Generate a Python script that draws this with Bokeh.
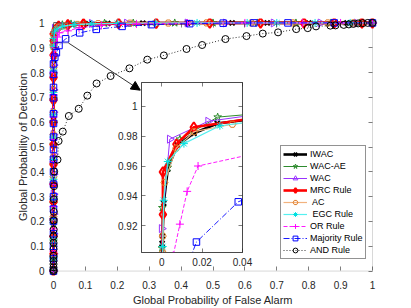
import numpy as np
from bokeh.plotting import figure
from bokeh.models import (Range1d, LinearAxis, FixedTicker, NumeralTickFormatter,
                          Legend, LegendItem, Arrow, NormalHead, BoxAnnotation)
from bokeh.embed import file_html
from bokeh.resources import INLINE

FONT = "Liberation Sans"
AXIS_COLOR = "#262626"

# ---------------- data ----------------
x_ticks = [0, 0.1, 0.2, 0.3, 0.4, 0.5, 0.6, 0.7, 0.8, 0.9, 1]
x_tick_labels = ["0", "0.1", "0.2", "0.3", "0.4", "0.5", "0.6", "0.7", "0.8", "0.9", "1"]
y_ticks = [0, 0.1, 0.2, 0.3, 0.4, 0.5, 0.6, 0.7, 0.8, 0.9, 1]
y_tick_labels = ["0", "0.1", "0.2", "0.3", "0.4", "0.5", "0.6", "0.7", "0.8", "0.9", "1"]
inset_x_ticks = [0, 0.02, 0.04]
inset_x_tick_labels = ["0", "0.02", "0.04"]
inset_y_ticks = [0.92, 0.94, 0.96, 0.98, 1]
inset_y_tick_labels = ["0.92", "0.94", "0.96", "0.98", "1"]

x_label = "Global Probability of False Alarm"
y_label = "Global Probability of Detection"

names = ["IWAC", "WAC-AE", "WAC", "MRC Rule", " AC", " EGC Rule", "OR Rule", "Majority Rule", "AND Rule"]

iwac_pfa = [0, 0, 0, 0, 0, 0, 0, 0, 0, 0, 0, 0, 0.0002, 0.0004, 0.0010, 0.0030, 0.0077, 0.0160, 0.0275,
            0.060, 0.110, 0.170, 0.280, 0.420, 0.560, 0.670, 0.800, 0.920, 1.000]
iwac_pd = [0, 0.06, 0.13, 0.20, 0.28, 0.36, 0.44, 0.52, 0.61, 0.70, 0.78, 0.85, 0.908, 0.913, 0.935, 0.958,
           0.974, 0.982, 0.9885, 0.994, 0.997, 0.998, 0.999, 0.9995, 1, 1, 1, 1, 1]

wacae_pfa = [0, 0, 0, 0, 0, 0, 0, 0, 0, 0, 0, 0.0001, 0.0003, 0.0030, 0.0090, 0.0277, 0.055, 0.095, 0.160,
             0.250, 0.380, 0.500, 0.640, 0.760, 0.870, 0.960, 1.000]
wacae_pd = [0, 0.05, 0.12, 0.19, 0.27, 0.35, 0.43, 0.51, 0.60, 0.69, 0.79, 0.905, 0.932, 0.959, 0.978, 0.9928,
            0.996, 0.998, 0.999, 0.9995, 1, 1, 1, 1, 1, 1, 1]

wac_pfa = [0, 0, 0, 0, 0, 0, 0, 0, 0, 0, 0, 0, 0.0040, 0.0230, 0.050, 0.120, 0.230, 0.420, 0.540, 0.690,
           0.837, 0.950, 1.000]
wac_pd = [0, 0.07, 0.15, 0.23, 0.31, 0.39, 0.47, 0.55, 0.64, 0.73, 0.83, 0.918, 0.978, 0.990, 0.995, 0.998,
          0.999, 1, 1, 1, 1, 1, 1]

mrc_pfa = [0, 0, 0, 0, 0, 0, 0, 0, 0, 0, 0, 0.0003, 0.0006, 0.0006, 0.0073, 0.0159, 0.045, 0.094, 0.204,
           0.322, 0.490, 0.649, 0.785, 0.880, 0.967, 1.000]
mrc_pd = [0, 0.07, 0.14, 0.21, 0.28, 0.35, 0.43, 0.51, 0.60, 0.69, 0.78, 0.87, 0.9275, 0.956, 0.9746, 0.986,
          0.992, 0.996, 0.998, 0.999, 0.9995, 1, 1, 1, 1, 1]

ac_pfa = [0, 0, 0, 0, 0, 0, 0, 0, 0, 0, 0, 0.0005, 0.0005, 0.0014, 0.0072, 0.0160, 0.0350, 0.075, 0.140,
          0.240, 0.360, 0.480, 0.620, 0.750, 0.860, 0.940, 1.000]
ac_pd = [0, 0.06, 0.14, 0.22, 0.30, 0.38, 0.46, 0.55, 0.64, 0.73, 0.82, 0.902, 0.913, 0.949, 0.972, 0.983,
         0.988, 0.994, 0.997, 0.999, 0.9995, 1, 1, 1, 1, 1, 1]

egc_pfa = [0, 0, 0, 0, 0, 0, 0, 0, 0, 0, 0, 0.0005, 0.0010, 0.0030, 0.0110, 0.0288, 0.065, 0.120, 0.200,
           0.320, 0.450, 0.607, 0.700, 0.820, 0.930, 1.000]
egc_pd = [0, 0.05, 0.13, 0.21, 0.29, 0.37, 0.45, 0.54, 0.63, 0.72, 0.81, 0.906, 0.937, 0.963, 0.975, 0.987,
          0.993, 0.996, 0.998, 0.999, 1, 1, 1, 1, 1, 1]

or_pfa = [0, 0, 0, 0, 0, 0, 0, 0, 0, 0, 0.0010, 0.0057, 0.0090, 0.0126, 0.0180, 0.045, 0.080, 0.150, 0.260,
          0.420, 0.600, 0.780, 0.900, 1.000]
or_pd = [0, 0.08, 0.17, 0.26, 0.35, 0.44, 0.53, 0.62, 0.71, 0.80, 0.87, 0.900, 0.921, 0.943, 0.960, 0.968,
         0.980, 0.990, 0.996, 0.999, 1, 1, 1, 1]

maj_pfa = [0, 0, 0, 0, 0, 0, 0, 0, 0, 0, 0, 0, 0, 0, 0, 0, 0, 0, 0.0040, 0.0090, 0.0172, 0.0379, 0.082,
           0.134, 0.215, 0.307, 0.427, 0.532, 0.628, 0.735, 0.880, 1.000]
maj_pd = [0, 0.05, 0.10, 0.15, 0.20, 0.25, 0.30, 0.35, 0.40, 0.45, 0.49, 0.54, 0.595, 0.634, 0.698, 0.74,
          0.793, 0.835, 0.862, 0.880, 0.909, 0.936, 0.960, 0.974, 0.986, 0.993, 0.997, 0.999, 1, 1, 1, 1]

and_pfa = [0, 0, 0, 0, 0, 0, 0, 0, 0, 0.0005, 0.0005, 0.0010, 0.0010, 0.0015, 0.0020, 0.0125, 0.016, 0.029,
           0.048, 0.079, 0.106, 0.135, 0.179, 0.238, 0.294, 0.346, 0.417, 0.466, 0.539, 0.605, 0.656, 0.704,
           0.761, 0.797, 0.823, 0.868, 0.884, 0.910, 0.926, 0.940, 0.955, 0.970, 0.985, 1.000]
and_pd = [0, 0.005, 0.015, 0.028, 0.041, 0.061, 0.088, 0.114, 0.140, 0.167, 0.204, 0.239, 0.289, 0.342,
          0.401, 0.449, 0.524, 0.562, 0.625, 0.654, 0.707, 0.756, 0.786, 0.817, 0.852, 0.869, 0.895, 0.911,
          0.935, 0.947, 0.957, 0.962, 0.975, 0.979, 0.986, 0.989, 0.990, 0.992, 0.994, 0.996, 0.998, 0.999,
          1.0, 1.0]

series_pfa = [iwac_pfa, wacae_pfa, wac_pfa, mrc_pfa, ac_pfa, egc_pfa, or_pfa, maj_pfa, and_pfa]
series_pd = [iwac_pd, wacae_pd, wac_pd, mrc_pd, ac_pd, egc_pd, or_pd, maj_pd, and_pd]

# axes box, zoom box and arrow annotation (data coords)
axes_box = dict(left=0, right=1, bottom=0, top=1)
zoom_box = dict(left=0, right=0.047, bottom=0.919, top=1.0)
arrow_start = (0.047, 0.919)
arrow_end = (0.272, 0.729)

# ---------------- styles ----------------
styles = [
    dict(color="#000000", lw=2.6, dash="solid", marker="x", size=7, mcolor="#000000", mlw=2.0, angle=0),
    dict(color="#2E8B2E", lw=1.0, dash="solid", marker="star", size=8, mcolor="#2E8B2E", mlw=1.0, angle=0),
    dict(color="#9933FF", lw=1.0, dash="solid", marker="triangle", size=8, mcolor="#9933FF", mlw=1.0,
         angle=-np.pi / 2),
    dict(color="#FF0000", lw=2.6, dash="solid", marker="diamond", size=10, mcolor="#FF0000", mlw=2.0, angle=0),
    dict(color="#F2B27E", lw=1.2, dash="solid", marker="hex", size=7, mcolor="#E07B24", mlw=1.0, angle=0),
    dict(color="#55F0F0", lw=1.2, dash="solid", marker="asterisk", size=8, mcolor="#00E0E0", mlw=1.0, angle=0),
    dict(color="#FF00FF", lw=0.9, dash="4 2", marker="cross", size=8, mcolor="#FF00FF", mlw=1.0, angle=0),
    dict(color="#0000FF", lw=0.9, dash="6 2 1 2", marker="square", size=6.5, mcolor="#0000FF", mlw=1.0, angle=0),
    dict(color="#000000", lw=0.8, dash="1 2", marker="circle", size=7, mcolor="#000000", mlw=1.0, angle=0),
]


def draw_series(fig):
    items = []
    for name, xs, ys, st in zip(names, series_pfa, series_pd, styles):
        r1 = fig.line(xs, ys, line_color=st["color"], line_width=st["lw"], line_dash=st["dash"])
        r2 = fig.scatter(xs, ys, marker=st["marker"], size=st["size"], line_color=st["mcolor"],
                         fill_color=None, line_width=st["mlw"], angle=st["angle"])
        items.append(LegendItem(label=name, renderers=[r1, r2]))
    return items


def style_axis(ax, ticks, labels, show_labels, tick_out, tick_in, standoff, axis_line):
    ax.ticker = FixedTicker(ticks=ticks)
    ax.formatter = NumeralTickFormatter(format="0.[00]")
    if show_labels:
        ax.major_label_overrides = dict(zip(ticks, labels))
    else:
        ax.major_label_overrides = {t: "" for t in ticks}
    ax.major_label_text_font_size = "10px"
    ax.major_tick_in = tick_in
    ax.major_tick_out = tick_out
    ax.minor_tick_in = 0
    ax.minor_tick_out = 0
    ax.axis_line_color = AXIS_COLOR if axis_line else None
    ax.axis_line_width = 0.6
    ax.major_tick_line_color = AXIS_COLOR
    ax.major_tick_line_width = 0.6
    ax.major_label_text_font = FONT
    ax.major_label_text_color = AXIS_COLOR
    ax.major_label_standoff = standoff
    ax.axis_label_text_font = FONT
    ax.axis_label_text_font_size = "11px"
    ax.axis_label_text_font_style = "normal"
    ax.axis_label_text_color = AXIS_COLOR


# ---------------- main figure ----------------
p = figure(width=411, height=308, output_backend="svg", toolbar_location=None,
           x_range=Range1d(-0.0157, 1.0157), y_range=Range1d(-0.0178, 1.0178),
           min_border_left=48, min_border_right=34, min_border_top=18, min_border_bottom=28)
p.grid.visible = False
p.outline_line_color = None
p.background_fill_color = "white"
p.border_fill_color = "white"

style_axis(p.xaxis[0], x_ticks, x_tick_labels, True, -5, 9, 5, False)
style_axis(p.yaxis[0], y_ticks, y_tick_labels, True, -5, 9, 4, False)
p.xaxis[0].axis_label = x_label
p.xaxis[0].axis_label_standoff = 2
p.yaxis[0].axis_label = y_label
p.yaxis[0].axis_label_standoff = -1
ax_r = LinearAxis()
style_axis(ax_r, y_ticks, y_tick_labels, False, -5, 9, 0, False)
p.add_layout(ax_r, "right")
ax_t = LinearAxis()
style_axis(ax_t, x_ticks, x_tick_labels, False, -5, 9, 0, False)
p.add_layout(ax_t, "above")

p.add_layout(BoxAnnotation(fill_alpha=0, line_color=AXIS_COLOR, line_width=0.6, level="underlay", **axes_box))

items = draw_series(p)

p.add_layout(BoxAnnotation(fill_alpha=0, line_color="#404040", line_width=1, **zoom_box))
p.add_layout(Arrow(x_start=arrow_start[0], y_start=arrow_start[1], x_end=arrow_end[0], y_end=arrow_end[1],
                   line_color="#000000", line_width=0.8,
                   end=NormalHead(size=9, fill_color="#000000", line_color="#000000")))

legend = Legend(items=items, location=(232, 16), orientation="vertical")
legend.label_text_font = FONT
legend.label_text_font_size = "9px"
legend.label_text_color = "#000000"
legend.glyph_width = 24
legend.glyph_height = 12
legend.label_height = 12
legend.spacing = 0
legend.padding = 2
legend.margin = 0
legend.label_standoff = 3
legend.border_line_color = AXIS_COLOR
legend.border_line_width = 0.6
legend.background_fill_color = "white"
legend.background_fill_alpha = 1
p.add_layout(legend)

# ---------------- inset figure ----------------
inset = figure(width=175, height=204, output_backend="svg", toolbar_location=None,
               x_range=Range1d(-0.01, 0.04), y_range=Range1d(0.902, 1.016),
               min_border_left=40, min_border_right=34, min_border_top=14, min_border_bottom=20)
inset.grid.visible = False
inset.outline_line_color = AXIS_COLOR
inset.outline_line_width = 0.6
inset.background_fill_color = "white"
inset.border_fill_color = None
style_axis(inset.xaxis[0], inset_x_ticks, inset_x_tick_labels, True, 0, 4, 5, True)
style_axis(inset.yaxis[0], inset_y_ticks, inset_y_tick_labels, True, 0, 4, 4, True)
ia_r = LinearAxis()
style_axis(ia_r, inset_y_ticks, inset_y_tick_labels, False, 0, 4, 0, True)
inset.add_layout(ia_r, "right")
ia_t = LinearAxis()
style_axis(ia_t, inset_x_ticks, inset_x_tick_labels, False, 0, 4, 0, True)
inset.add_layout(ia_t, "above")
draw_series(inset)

inset.styles = {"position": "absolute", "left": "101px", "top": "68px"}

open("out.html", "w").write(file_html([p, inset], INLINE))
